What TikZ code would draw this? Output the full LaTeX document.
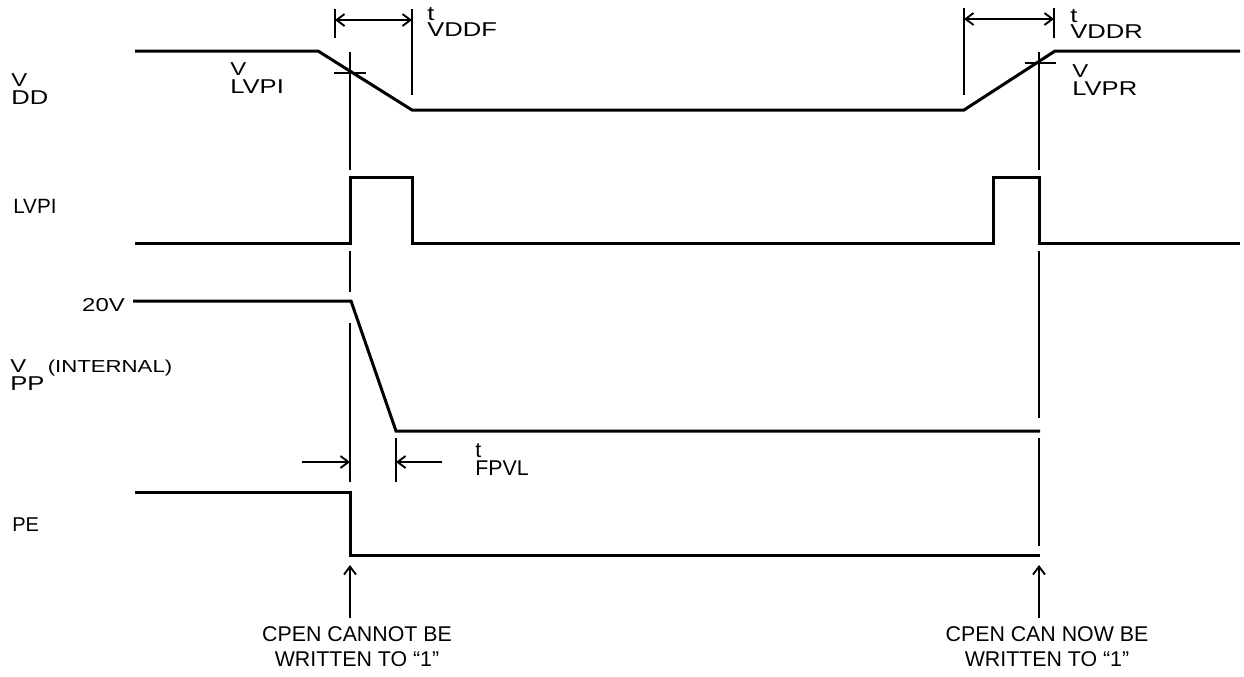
\documentclass[tikz,border=0pt]{standalone}
\usepackage{fontspec}
\setmainfont{Liberation Sans}
\newfontfamily\widefont{Liberation Sans}[FakeStretch=1.28]
\usetikzlibrary{arrows.meta}
\newcommand\stk[3][0.6em]{\rlap{\raisebox{#1}{#2}}#3}
\begin{document}
\begin{tikzpicture}[x=0.75pt,y=-0.75pt,
  sig/.style={line width=2.25pt, line join=miter},
  guide/.style={line width=1.4pt},
  tip/.style={line width=1.4pt, -{Straight Barb[length=6pt,width=9pt,line width=1.4pt]}},
  dimarrow/.style={line width=1.4pt, {Straight Barb[length=6pt,width=9pt,line width=1.4pt]}-{Straight Barb[length=6pt,width=9pt,line width=1.4pt]}},
  lab/.style={anchor=base west, inner sep=0pt, font=\fontsize{15}{18}\selectfont},
  wlab/.style={lab, font=\widefont\fontsize{15}{18}\selectfont},
  note/.style={align=center, inner sep=0pt, anchor=north, font=\fontsize{16}{18.75}\selectfont}]
\useasboundingbox (0,0) rectangle (1244,676);

% ---------- signals ----------
% VDD
\draw[sig] (135,51) -- (318,51) -- (412,110) -- (964,110) -- (1055,51) -- (1240,51);
% LVPI
\draw[sig] (135,243) -- (350,243) -- (350,177) -- (412,177) -- (412,243) -- (993,243) -- (993,177) -- (1039,177) -- (1039,243) -- (1240,243);
% VPP
\draw[sig] (133,301) -- (351,301) -- (396,431) -- (1040,431);
% PE
\draw[sig] (135,492) -- (350,492) -- (350,555) -- (1040,555);

% ---------- left marker line ----------
\draw[guide] (350,52) -- (350,170);
\draw[guide] (350,251) -- (350,292);
\draw[guide] (350,323) -- (350,482);
\draw[guide] (334,73) -- (366,73);
% ---------- right marker line ----------
\draw[guide] (1039,52) -- (1039,170);
\draw[guide] (1039,251) -- (1039,418);
\draw[guide] (1039,438) -- (1039,546);
\draw[guide] (1025,63) -- (1056,63);

% ---------- tVDDF ----------
\coordinate (fa) at (335,20);
\coordinate (fb) at (412,20);
\draw[guide] (335,9) -- (335,38);
\draw[guide] (412,9) -- (412,95);
\draw[dimarrow] (fa) -- (fb);
% ---------- tVDDR ----------
\coordinate (ra) at (964,19);
\coordinate (rb) at (1054,19);
\draw[guide] (964,8) -- (964,95);
\draw[guide] (1054,8) -- (1054,38);
\draw[dimarrow] (ra) -- (rb);
% ---------- tFPVL ----------
\coordinate (pa0) at (302,462);
\coordinate (pa1) at (350,462);
\coordinate (pb0) at (442,462);
\coordinate (pb1) at (396,462);
\draw[guide] (396,438) -- (396,482);
\draw[tip] (pa0) -- (pa1);
\draw[tip] (pb0) -- (pb1);

% ---------- labels ----------
\node[wlab] (lvdd) at (11,104) {\stk[0.88em]{\fontsize{14}{16}\selectfont V}{DD}};
\node[lab, font=\fontsize{15.5}{18}\selectfont] (llvpi) at (13,213) {LVPI};
\node[wlab, anchor=base east, font=\widefont\fontsize{14}{16}\selectfont] (l20) at (125,311) {20V};
\node[wlab] (lvpp) at (10,390) {\stk[0.88em]{\fontsize{14}{16}\selectfont V}{PP}\,\raisebox{0.88em}{\fontsize{13}{15}\selectfont(INTERNAL)}};
\node[lab] (lpe) at (12,531) {PE};
\node[wlab] (lvlvpi) at (230,93) {\stk[0.88em]{\fontsize{14}{16}\selectfont V}{LVPI}};
\node[wlab] (lvlvpr) at (1072,95) {\stk[0.88em]{\fontsize{14}{16}\selectfont V}{LVPR}};
\node[wlab] (ltf) at (427,36) {\stk[0.8em]{t}{VDDF}};
\node[wlab] (ltr) at (1070,38) {\stk[0.8em]{t}{VDDR}};
\node[lab, font=\fontsize{16}{18}\selectfont] (ltp) at (475,475) {\stk[0.8em]{t}{FPVL}};

% ---------- bottom notes ----------
\node[note] (n1) at (357,626) {CPEN CANNOT BE\\WRITTEN TO “1”};
\node[note] (n2) at (1047,626) {CPEN CAN NOW BE\\WRITTEN TO “1”};
\draw[tip] (n1.north -| 350,0) ++(0,-8) coordinate (a1) -- (350,565);
\draw[tip] (n2.north -| 1039,0) ++(0,-8) coordinate (a2) -- (1039,565);
\end{tikzpicture}
\end{document}
